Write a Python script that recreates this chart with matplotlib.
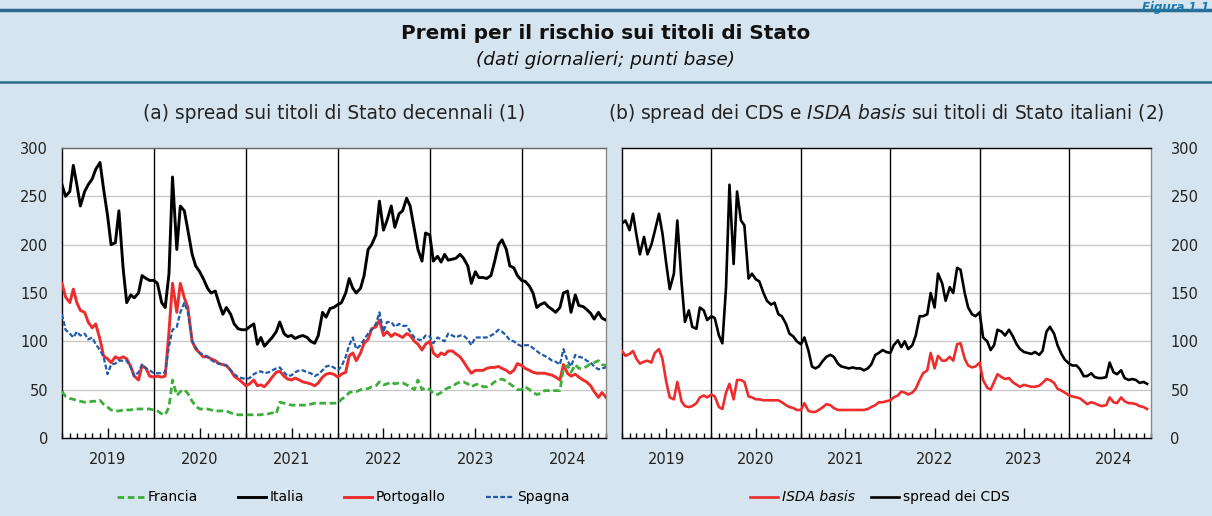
import matplotlib
matplotlib.use("Agg")
import matplotlib.pyplot as plt
import matplotlib.dates as mdates
from matplotlib.lines import Line2D
import pandas as pd

dates = pd.date_range("2019-01-01", periods=143, freq="SMS")

# (a) 10-year government bond spreads vs Bund, basis points
francia = [48, 43, 41, 40, 39, 38, 37, 37, 38, 38, 39, 35, 32, 29, 28, 28, 29, 29, 29, 30,
           30, 30, 30, 30, 29, 28, 25, 24, 32, 60, 44, 48, 50, 46, 38, 33, 30, 30, 30, 29,
           28, 28, 28, 28, 26, 25, 24, 24, 24,
           24, 24, 24, 24, 25, 25, 26, 25, 37, 36, 35, 34, 34, 34, 34, 34, 35, 36, 36, 36,
           36, 36, 36, 36, 40, 43, 47, 48, 48, 50, 51, 51, 53, 54, 58, 55, 56, 58, 56, 57,
           57, 55, 53, 50, 60, 50, 52,
           50, 46, 45, 47, 50, 52, 53, 56, 58, 58, 56, 53, 55, 56, 53, 53, 55, 58, 60, 61,
           59, 56, 53, 50, 50, 53, 50, 47, 45, 46, 49, 49, 49, 49, 49, 72, 75, 68, 76, 72,
           72, 74, 77, 78, 80, 76, 75]
italia = [262, 250, 255, 282, 262, 240, 255, 262, 268, 278, 285, 258, 230, 200, 202, 235, 175,
          140, 148, 145, 150, 168, 165, 163, 163, 160, 140, 135, 170, 270, 195, 240, 235, 215,
          190, 178, 172, 165, 155, 150, 152, 140, 128, 135, 128, 118, 113, 112, 112,
          115, 118, 97, 104, 95, 100, 104, 110, 120, 108, 105, 106, 103, 105, 106, 104, 100,
          98, 106, 130, 125, 134, 135, 138, 140, 150, 165, 155, 150, 155, 168, 195, 200, 210,
          245, 215, 225, 240, 218, 232, 235, 248, 240, 215, 195, 183, 212,
          210, 183, 188, 182, 190, 184, 185, 186, 190, 186, 178, 160, 172, 166, 166, 165, 168,
          182, 200, 205, 195, 178, 176, 168, 163, 162, 157, 150, 135, 138, 140, 136, 133, 130,
          135, 150, 152, 130, 148, 137, 136, 133, 129, 123, 130, 124, 122]
portogallo = [160, 146, 140, 154, 140, 132, 130, 120, 114, 118, 102, 85, 82, 78, 84, 82, 84, 82,
              74, 64, 60, 75, 72, 64, 63, 64, 63, 64, 110, 160, 130, 160, 145, 135, 100, 92, 88,
              84, 84, 82, 80, 77, 76, 75, 70, 64, 61, 58, 54,
              56, 60, 54, 55, 53, 58, 63, 68, 69, 64, 61, 60, 62, 60, 58, 57, 56, 54, 57, 63, 66,
              67, 66, 63, 66, 68, 85, 88, 80, 88, 98, 102, 113, 115, 122, 106, 110, 105, 108, 106,
              104, 108, 106, 100, 97, 91, 97,
              100, 88, 84, 88, 86, 90, 90, 87, 84, 79, 72, 67, 70, 70, 70, 72, 73, 73, 74, 72, 70,
              67, 70, 77, 75, 72, 70, 68, 67, 67, 67, 66, 65, 63, 60, 76, 67, 64, 66, 63, 60, 58,
              54, 48, 42, 47, 42]
spagna = [128, 112, 108, 104, 110, 106, 108, 102, 104, 97, 91, 84, 66, 76, 77, 80, 80, 80, 73,
          64, 68, 76, 72, 70, 67, 67, 67, 68, 95, 112, 115, 130, 140, 130, 100, 94, 88, 86, 84,
          81, 78, 77, 76, 75, 70, 66, 63, 62, 61,
          62, 66, 68, 69, 67, 68, 70, 72, 73, 68, 64, 65, 68, 70, 70, 68, 67, 64, 66, 70, 74,
          75, 73, 70, 74, 84, 96, 104, 92, 96, 102, 108, 112, 118, 130, 110, 120, 120, 115, 118,
          116, 116, 110, 104, 102, 101, 106,
          105, 98, 104, 102, 100, 108, 106, 104, 106, 106, 102, 96, 104, 104, 104, 104, 106, 108,
          112, 110, 106, 101, 100, 97, 95, 96, 96, 93, 90, 87, 85, 83, 80, 79, 76, 92, 80, 74,
          86, 84, 83, 80, 78, 74, 71, 72, 73]

# (b) Italian sovereign CDS spread and ISDA basis, basis points
cds = [222, 225, 215, 232, 210, 190, 208, 190, 200, 214, 232, 212, 180, 154, 170, 225, 162, 120,
       132, 115, 113, 135, 132, 122, 126, 124, 106, 98, 156, 262, 180, 255, 225, 220, 165, 170,
       164, 162, 150, 142, 138, 140, 128, 126, 118, 108, 105, 100, 97, 104, 90, 74, 72, 74, 80,
       84, 86, 84, 77, 74, 73, 72, 73, 72, 72, 70, 72, 76, 86, 88, 91,
       89, 88, 96, 101, 94, 100, 92, 96, 106, 126, 126, 128, 150, 135, 170, 160, 142, 156, 150,
       176, 174, 150, 135, 128, 126, 130, 104, 100, 91, 96, 112, 110, 106, 112, 106, 97, 92, 89,
       88, 87, 89, 86, 90, 110, 115, 108, 96, 87, 81, 77, 75, 75, 71, 64, 64, 67, 63, 62, 62, 63,
       78, 68, 66, 70, 62, 60, 61, 60, 57, 58, 56]
isda = [90, 85, 87, 90, 82, 77, 79, 80, 78, 88, 92, 82, 58, 42, 40, 58, 38, 33, 32, 33, 36, 42,
        44, 42, 45, 43, 32, 30, 47, 56, 40, 60, 60, 58, 43, 42, 40, 40, 39, 39, 39, 39, 39, 37,
        34, 32, 31, 29, 29, 36, 28, 27, 27, 29, 32, 35, 34, 31, 29, 29, 29, 29, 29, 29, 29, 29,
        30, 32, 34, 37, 37,
        38, 39, 42, 44, 48, 47, 45, 47, 51, 60, 67, 70, 88, 72, 85, 80, 80, 84, 80, 97, 98, 82,
        75, 73, 74, 78, 60, 52, 50, 58, 66, 63, 61, 62, 58, 55, 53, 55, 54, 53, 53, 54, 57, 61,
        60, 57, 51, 49, 47, 44, 43, 42, 41, 38, 35, 37, 36, 34, 33, 34, 42, 37, 36, 42, 38, 36,
        36, 35, 33, 32, 30]

year_lines = [2020, 2021, 2022, 2023, 2024]
yticks = [0, 50, 100, 150, 200, 250, 300]

BG = "#d5e4ee"
RULE = "#2b6b90"
RED = "#ee2c2c"
GREEN = "#3dae3a"
BLUE = "#1f5ba8"


def setup(ax, right=False):
    ax.set_facecolor("white")
    ax.set_xlim(pd.Timestamp("2019-01-01"), pd.Timestamp("2024-12-01"))
    ax.set_ylim(0, 300)
    ax.set_yticks(yticks)
    for y in yticks[1:-1]:
        ax.axhline(y, color="#c6c6c6", lw=0.9, zorder=1)
    for yr in year_lines:
        ax.axvline(pd.Timestamp(str(yr) + "-01-01"), color="black", lw=1, zorder=2)
    # label in mid-year, monthly minor ticks
    ax.xaxis.set_major_locator(mdates.MonthLocator(bymonth=7))
    ax.xaxis.set_major_formatter(mdates.DateFormatter("%Y"))
    ax.xaxis.set_minor_locator(mdates.MonthLocator())
    ax.tick_params(axis="x", which="major", direction="in", length=7, width=1,
                   pad=10, labelsize=10.5, colors="black", labelcolor="#222222")
    ax.tick_params(axis="x", which="minor", direction="in", length=3.3, width=1)
    if right:
        ax.yaxis.tick_right()
        ax.tick_params(axis="y", length=0, pad=14, labelsize=10.5, labelcolor="#222222")
    else:
        ax.tick_params(axis="y", length=0, pad=10, labelsize=10.5, labelcolor="#222222")
    for side in ["left", "bottom"]:
        ax.spines[side].set_color("black")
    ax.spines["top"].set_color("#666666")
    ax.spines["right"].set_color("#8a8a8a")
    for s in ax.spines.values():
        s.set_linewidth(1)


fig = plt.figure(figsize=(12.12, 5.16), dpi=100, facecolor=BG)

# header
fig.add_artist(Line2D([0, 1], [0.981, 0.981], transform=fig.transFigure, color=RULE, lw=2.5))
fig.add_artist(Line2D([0, 1], [0.841, 0.841], transform=fig.transFigure, color=RULE, lw=1.8))
fig.text(0.998, 0.999, "Figura 1.1", fontsize=8.5, fontweight="bold", fontstyle="italic",
         color="#1a78b0", ha="right", va="top")
fig.text(0.5, 0.936, "Premi per il rischio sui titoli di Stato", fontsize=14.4,
         fontweight="bold", ha="center", va="center", color="#111111")
fig.text(0.5, 0.884, "(dati giornalieri; punti base)", fontsize=13.3, fontstyle="italic",
         ha="center", va="center", color="#111111")

# (a)
ax1 = fig.add_axes([62 / 1212, 1 - 438 / 516, 544 / 1212, 290 / 516])
setup(ax1)
ax1.set_title("(a) spread sui titoli di Stato decennali (1)", fontsize=13.4, pad=21,
              color="#222222")
h_fr, = ax1.plot(dates[:len(francia)], francia, color=GREEN, lw=2.0, dashes=(2.4, 1.3), zorder=4)
h_it, = ax1.plot(dates[:len(italia)], italia, color="black", lw=2.1, zorder=5)
h_pt, = ax1.plot(dates[:len(portogallo)], portogallo, color=RED, lw=2.1, zorder=3)
h_es, = ax1.plot(dates[:len(spagna)], spagna, color=BLUE, lw=1.6, dashes=(2.2, 1.0), zorder=4)
fig.legend([h_fr, h_it, h_pt, h_es], ["Francia", "Italia", "Portogallo", "Spagna"],
           loc="center", bbox_to_anchor=(0.283, 0.036), ncol=4, frameon=False, fontsize=10,
           handlelength=2.0, handletextpad=0.25, columnspacing=2.9)

# (b)
ax2 = fig.add_axes([622 / 1212, 1 - 438 / 516, 529 / 1212, 290 / 516])
setup(ax2, right=True)
ax2.spines["top"].set_color("black")
ax2.set_title(r"(b) spread dei CDS e $\mathit{ISDA\ basis}$ sui titoli di Stato italiani (2)",
              fontsize=13.4, pad=21, color="#222222")
h_isda, = ax2.plot(dates[:len(isda)], isda, color=RED, lw=1.9, zorder=3)
h_cds, = ax2.plot(dates[:len(cds)], cds, color="black", lw=1.9, zorder=4)
leg2 = fig.legend([h_isda, h_cds], ["ISDA basis", "spread dei CDS"], loc="center",
                  bbox_to_anchor=(0.726, 0.036), ncol=2, frameon=False, fontsize=10,
                  handlelength=2.0, handletextpad=0.25, columnspacing=1.2)
leg2.get_texts()[0].set_fontstyle("italic")

fig.savefig("out.png", dpi=100, facecolor=BG)
